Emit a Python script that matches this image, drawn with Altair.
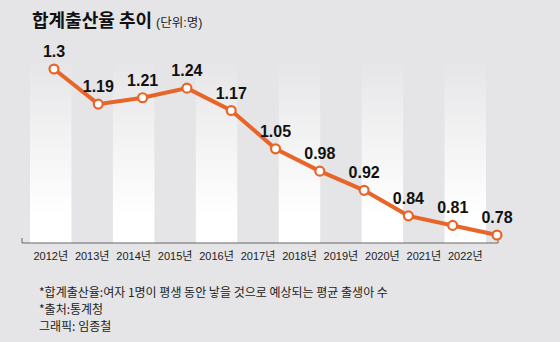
import altair as alt
import pandas as pd

years = [2012, 2013, 2014, 2015, 2016, 2017, 2018, 2019, 2020, 2021, 2022]
rates = [1.3, 1.19, 1.21, 1.24, 1.17, 1.05, 0.98, 0.92, 0.84, 0.81, 0.78]
year_labels = [f"{y}년" for y in years]
title_main = "합계출산율 추이"
title_unit = "(단위:명)"
notes = [
    "*합계출산율:여자 1명이 평생 동안 낳을 것으로 예상되는 평균 출생아 수",
    "*출처:통계청",
    " 그래픽: 임종철",
]

BG = "#e5e5e7"
ORANGE = "#e8652a"
FONT = "Noto Sans CJK KR"
MIXED = "Liberation Sans, Noto Sans CJK KR"

df = pd.DataFrame({"year": years, "rate": rates, "ylabel": year_labels})
df["idx"] = range(len(df))
bands_df = df[df["idx"] % 2 == 0]

band_x = alt.X("ylabel:O", scale=alt.Scale(domain=year_labels, range=[30, 486],
                                           paddingInner=0, paddingOuter=0), axis=None)
pt_x = alt.X("year:Q", scale=alt.Scale(domain=[2012, 2022], range=[54, 497]), axis=None)
pt_y = alt.Y("rate:Q", scale=alt.Scale(domain=[0.78, 1.3], range=[235, 69], zero=False), axis=None)

grad = alt.LinearGradient(
    gradient="linear", x1=0, x2=0, y1=0, y2=1,
    stops=[alt.GradientStop(color=BG, offset=0),
           alt.GradientStop(color="#f3f3f4", offset=0.45),
           alt.GradientStop(color="#ffffff", offset=0.85)],
)

bands = alt.Chart(bands_df).mark_rect(color=grad).encode(
    x=band_x, y=alt.value(58), y2=alt.value(243)
)

axis_line = alt.Chart(df.head(1)).mark_rule(color="#666666", strokeWidth=1).encode(
    x=alt.value(22), x2=alt.value(498), y=alt.value(243)
)
tick_l = alt.Chart(df.head(1)).mark_rule(color="#666666", strokeWidth=1).encode(
    x=alt.value(22), y=alt.value(238), y2=alt.value(243)
)
tick_r = alt.Chart(df.head(1)).mark_rule(color="#666666", strokeWidth=1).encode(
    x=alt.value(498), y=alt.value(238), y2=alt.value(243)
)

year_text = alt.Chart(df).mark_text(font=MIXED, fontSize=11, color="#222222",
                                    baseline="middle").encode(
    x=band_x, y=alt.value(257), text="ylabel:N"
)

line = alt.Chart(df).mark_line(color=ORANGE, strokeWidth=4).encode(x=pt_x, y=pt_y)
points = alt.Chart(df).mark_point(shape="circle", filled=True, fill="white",
                                  stroke=ORANGE, strokeWidth=2.2, size=80,
                                  opacity=1).encode(x=pt_x, y=pt_y)
labels = alt.Chart(df).mark_text(font="Liberation Sans", fontWeight="bold",
                                 fontSize=16, color="#111111",
                                 baseline="bottom", dy=-9).encode(
    x=pt_x, y=pt_y, text=alt.Text("rate:Q", format=".2~f")
)

t_main = alt.Chart(pd.DataFrame({"t": [title_main]})).mark_text(
    font=FONT, fontWeight="bold", fontSize=18, color="#111111",
    align="left", baseline="middle").encode(
    x=alt.value(32), y=alt.value(22), text="t:N")
t_unit = alt.Chart(pd.DataFrame({"t": [title_unit]})).mark_text(
    font=MIXED, fontSize=12.5, color="#222222",
    align="left", baseline="middle").encode(
    x=alt.value(156), y=alt.value(23), text="t:N")

note_layers = []
for txt, yy in zip(notes, [293, 310, 327]):
    note_layers.append(
        alt.Chart(pd.DataFrame({"t": [txt]})).mark_text(
            font=FONT, fontSize=12, color="#222222",
            align="left", baseline="middle").encode(
            x=alt.value(39), y=alt.value(yy), text="t:N")
    )

chart = alt.layer(
    bands, axis_line, tick_l, tick_r, year_text, line, points, labels,
    t_main, t_unit, *note_layers
).resolve_scale(x="independent").properties(
    width=560, height=342, autosize="none", padding=0, background=BG
).configure_view(stroke=None)

chart.save("out.html", embed_options={"renderer": "svg", "actions": False})
